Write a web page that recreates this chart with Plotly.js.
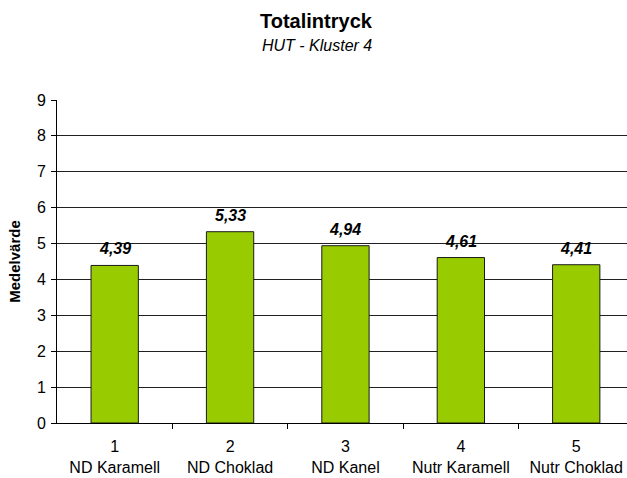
<!DOCTYPE html>
<html>
<head>
<meta charset="utf-8">
<script src="https://cdn.plot.ly/plotly-3.0.1.min.js"></script>
<style>html,body{margin:0;padding:0;background:#fff;}#chart{width:627px;height:478px;}</style>
</head>
<body>
<div id="chart"></div>
<script>
const categoryNumbers = ["1", "2", "3", "4", "5"];
const categoryNames = ["ND Karamell", "ND Choklad", "ND Kanel", "Nutr Karamell", "Nutr Choklad"];
const meanValues = [4.39, 5.33, 4.94, 4.61, 4.41];
const valueLabels = ["4,39", "5,33", "4,94", "4,61", "4,41"];
const yTicks = [0, 1, 2, 3, 4, 5, 6, 7, 8, 9];
const titleText = "Totalintryck";
const subtitleText = "HUT - Kluster 4";

const positions = categoryNames.map((_, i) => i);
const tickText = categoryNames.map((n, i) => categoryNumbers[i] + "<br>" + n);
const boundaries = positions.slice(0, -1).map(p => p + 0.5);

const font = "Arial, 'Liberation Sans', sans-serif";

const bars = {
  type: "bar",
  x: positions,
  y: meanValues,
  width: 0.41,
  marker: {color: "#99CC00", line: {color: "#1a1a1a", width: 1}},
  hoverinfo: "none"
};

const tickHelper = {
  type: "scatter",
  x: boundaries,
  y: boundaries.map(() => 0),
  xaxis: "x2",
  mode: "markers",
  marker: {opacity: 0},
  hoverinfo: "none",
  showlegend: false
};

const valueAnnotations = positions.map((p, i) => ({
  x: p, y: meanValues[i], xref: "x", yref: "y",
  text: "<b><i>" + valueLabels[i] + "</i></b>",
  showarrow: false,
  yanchor: "bottom",
  yshift: 6,
  font: {family: font, size: 16, color: "#000"}
}));

const layout = {
  width: 627,
  height: 478,
  paper_bgcolor: "#fff",
  plot_bgcolor: "#fff",
  showlegend: false,
  margin: {l: 57, r: 0, t: 100, b: 55},
  annotations: [
    {text: "<b>" + titleText + "</b>", xref: "paper", yref: "paper", x: 0.456, y: 1.246,
     xanchor: "center", yanchor: "middle", showarrow: false,
     font: {family: font, size: 20, color: "#000"}},
    {text: "<i>" + subtitleText + "</i>", xref: "paper", yref: "paper", x: 0.456, y: 1.17,
     xanchor: "center", yanchor: "middle", showarrow: false,
     font: {family: font, size: 16, color: "#000"}}
  ].concat(valueAnnotations),
  xaxis: {
    range: [-0.5, 4.44],
    tickvals: positions,
    ticktext: tickText,
    ticks: "",
    ticklabelstandoff: 9,
    showgrid: false,
    zeroline: false,
    showline: true,
    linecolor: "#000",
    linewidth: 1,
    tickfont: {family: font, size: 16, color: "#000"},
    fixedrange: true
  },
  xaxis2: {
    overlaying: "x",
    anchor: "y",
    side: "bottom",
    range: [-0.5, 4.44],
    tickvals: boundaries,
    ticks: "outside",
    ticklen: 5,
    tickcolor: "#000",
    showticklabels: false,
    showgrid: false,
    zeroline: false,
    showline: false
  },
  yaxis: {
    range: [0, 9],
    tickvals: yTicks,
    ticks: "outside",
    ticklen: 5,
    tickcolor: "#000",
    ticklabelstandoff: 2,
    showgrid: true,
    gridcolor: "#202020",
    gridwidth: 1,
    zeroline: false,
    showline: true,
    linecolor: "#000",
    linewidth: 1,
    tickfont: {family: font, size: 16, color: "#000"},
    title: {text: "<b>Medelvärde</b>", font: {family: font, size: 15, color: "#000"}, standoff: 12},
    fixedrange: true
  }
};

Plotly.newPlot("chart", [bars, tickHelper], layout, {displayModeBar: false, staticPlot: true});
</script>
</body>
</html>
